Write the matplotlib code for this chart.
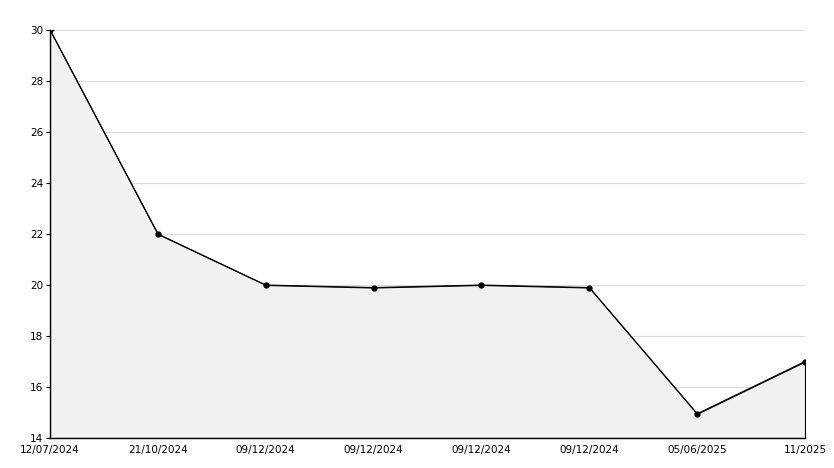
import numpy as np
import matplotlib.pyplot as plt
from matplotlib.ticker import MultipleLocator

labels = ['12/07/2024', '21/10/2024', '09/12/2024', '09/12/2024',
          '09/12/2024', '09/12/2024', '05/06/2025', '11/2025']
values = [30, 22, 20, 19.9, 20, 19.9, 14.95, 17]

x = np.arange(len(values))

fig = plt.figure(figsize=(8.34, 4.68), dpi=100)
ax = fig.add_axes([50 / 834, 30 / 468, 755 / 834, 408 / 468])

ax.fill_between(x, 14, values, facecolor='#f1f1f1', edgecolor='black', linewidth=0.8)
ax.plot(x, values, color='black', linewidth=0.8, marker='o', markersize=3.5)

ax.set_xlim(0, len(values) - 1)
ax.set_ylim(14, 30)
ax.set_xticks(x)
ax.set_xticklabels(labels)
ax.yaxis.set_major_locator(MultipleLocator(2))
ax.yaxis.set_minor_locator(MultipleLocator(1))

ax.grid(axis='y', color='#dddddd', linewidth=0.8)
ax.set_axisbelow(True)

for s in ['top', 'right']:
    ax.spines[s].set_visible(False)
ax.spines['left'].set_linewidth(1)
ax.spines['bottom'].set_linewidth(1)

ax.tick_params(axis='y', which='major', direction='inout', length=6, labelsize=7.5, pad=2)
ax.tick_params(axis='y', which='minor', direction='in', length=4)
ax.tick_params(axis='x', which='major', direction='in', length=4, labelsize=7.5, pad=5)

# nudge the bottom y label up a little so it clears the first date
ax.get_yticklabels()[0].set_va('bottom')

plt.savefig('out.png', dpi=100)
